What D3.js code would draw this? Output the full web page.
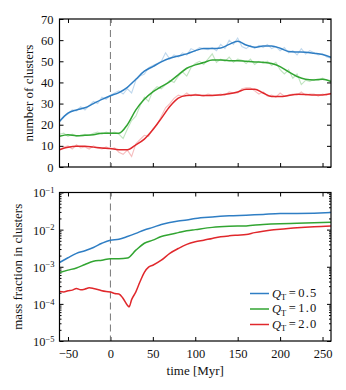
<!DOCTYPE html>
<html>
<head>
<meta charset="utf-8">
<script src="https://cdn.jsdelivr.net/npm/d3@7"></script>
<style>
  body { margin: 0; background: #fff; }
  svg text { font-family: "Liberation Serif", "DejaVu Serif", serif; fill: #111; }
</style>
</head>
<body>
<div id="chart"></div>
<script>
// smoothed curves, sampled every 10 Myr
const timeSmooth = [-60, -50, -40, -30, -20, -10, 0, 10, 20, 30, 40, 50, 60, 70, 80, 90, 100, 110, 120, 130, 140, 150, 160, 170, 180, 190, 200, 210, 220, 230, 240, 250, 260];
const nBlue = [21.5, 25.5, 27, 28, 30, 32, 33.7, 35.2, 37.7, 41.5, 45.3, 47.5, 49.7, 51.4, 52.5, 53.5, 55, 56, 56, 56.3, 58, 59.5, 57.7, 56.6, 57.2, 57.2, 56.2, 54.6, 54.4, 54.3, 53.8, 53.2, 51.9];
const nGreen = [14.5, 15.2, 14.8, 15, 15.3, 16, 16, 16, 20, 27, 32, 35.5, 38, 40.4, 43.6, 46.7, 48.3, 49.4, 50.6, 50.6, 50.3, 50.3, 50, 49.7, 49.5, 49, 47.5, 45, 42.8, 41.5, 41.2, 41.5, 40.4];
const nRed = [8.2, 9.3, 9.8, 9.8, 9.4, 9, 8.7, 8.2, 8.2, 10.5, 13.2, 17.6, 23, 28.6, 32.6, 33.8, 34, 33.8, 33.8, 34.1, 34.6, 35.5, 36.8, 36.8, 35, 33.3, 33.3, 33.8, 34.4, 34.3, 34.1, 34.1, 34.6];

// raw counts, sampled every 5 Myr
const timeRaw = [-60, -55, -50, -45, -40, -35, -30, -25, -20, -15, -10, -5, 0, 5, 10, 15, 20, 25, 30, 35, 40, 45, 50, 55, 60, 65, 70, 75, 80, 85, 90, 95, 100, 105, 110, 115, 120, 125, 130, 135, 140, 145, 150, 155, 160, 165, 170, 175, 180, 185, 190, 195, 200, 205, 210, 215, 220, 225, 230, 235, 240, 245, 250, 255, 260];
const rawBlue = [22, 24, 25, 27, 26.5, 28.5, 27, 29, 31, 30, 33, 32, 34, 35, 36, 34.5, 37, 35, 41, 43, 44, 47, 48, 49, 50, 54, 51, 53, 52, 54, 53, 56, 55, 56.5, 56, 55.5, 56.5, 55, 58, 56, 60, 58, 61, 57, 56, 57.5, 56, 57.5, 56.5, 58, 56, 57, 55, 56.5, 54, 55, 53, 56, 53.5, 55, 54, 53, 53.5, 52, 51.5];
const rawGreen = [15.5, 16, 14.5, 15.5, 14.5, 15, 15.5, 15, 16, 16.5, 15.5, 16.5, 16, 16.5, 15.5, 13.5, 18, 22, 24, 29, 33, 31, 36, 38, 37, 39, 41, 40, 43, 45, 43, 47, 49, 50, 48.5, 51, 53.5, 49.5, 51, 50, 52, 49.5, 51, 50.5, 49, 51, 48.5, 50, 49, 50, 48, 49.5, 46, 44, 46, 42, 44, 39, 41, 40.5, 41.5, 41, 42, 41, 41];
const rawRed = [8, 9.5, 10, 8.5, 10.5, 9, 9.5, 8.5, 10, 9, 8.5, 9.5, 8.5, 9, 7, 6, 8, 5, 11, 13, 15, 14.5, 18, 20, 24, 28, 30, 32.5, 34, 33.5, 35, 33.5, 34.5, 34, 33.5, 34.5, 34, 34, 34.5, 34, 35.5, 35, 35, 37, 37.5, 37.5, 36, 34.5, 35.5, 33.5, 34, 33, 35, 33.5, 34, 34.5, 34, 35.5, 34, 34.5, 34.5, 33.5, 34.5, 34, 35];

// mass fraction in clusters
const timeMass = [-60, -50, -40, -30, -20, -10, 0, 10, 20, 30, 40, 50, 60, 70, 80, 90, 100, 120, 140, 160, 180, 200, 220, 240, 260];
const fBlue = [1.3e-3, 1.75e-3, 2.3e-3, 2.7e-3, 3.3e-3, 4.3e-3, 5.2e-3, 5.5e-3, 6.5e-3, 7.9e-3, 9.8e-3, 1.15e-2, 1.38e-2, 1.55e-2, 1.7e-2, 1.82e-2, 2.0e-2, 2.2e-2, 2.35e-2, 2.45e-2, 2.57e-2, 2.7e-2, 2.72e-2, 2.78e-2, 2.88e-2];
const fGreen = [7.0e-4, 8.1e-4, 9.3e-4, 1.15e-3, 1.4e-3, 1.5e-3, 1.65e-3, 1.65e-3, 1.72e-3, 2.8e-3, 4.3e-3, 5.2e-3, 6.5e-3, 7.4e-3, 8.3e-3, 9.3e-3, 1.0e-2, 1.15e-2, 1.23e-2, 1.26e-2, 1.38e-2, 1.45e-2, 1.48e-2, 1.52e-2, 1.58e-2];
const timeMassRed = [-60, -55, -50, -45, -40, -35, -30, -25, -20, -15, -10, -5, 0, 5, 10, 15, 20, 22, 25, 30, 35, 40, 45, 50, 60, 70, 80, 90, 100, 110, 120, 130, 140, 150, 160, 170, 180, 190, 200, 220, 240, 260];
const fRed = [2.15e-4, 2.1e-4, 2.25e-4, 2.35e-4, 2.6e-4, 2.4e-4, 2.5e-4, 2.7e-4, 2.6e-4, 2.45e-4, 2.25e-4, 2.15e-4, 2.1e-4, 1.9e-4, 1.85e-4, 1.4e-4, 9.2e-5, 8.3e-5, 1.3e-4, 2.1e-4, 4.0e-4, 7.1e-4, 9.8e-4, 1.1e-3, 1.5e-3, 2.3e-3, 3.1e-3, 4.0e-3, 4.7e-3, 5.2e-3, 5.8e-3, 6.4e-3, 6.8e-3, 7.1e-3, 7.4e-3, 8.3e-3, 9.1e-3, 9.8e-3, 1.02e-2, 1.12e-2, 1.2e-2, 1.26e-2];

const seriesNames = ["Q_T = 0.5", "Q_T = 1.0", "Q_T = 2.0"];
const qValues = ["0.5", "1.0", "2.0"];
const xTicks = [-50, 0, 50, 100, 150, 200, 250];
const countTicks = [0, 10, 20, 30, 40, 50, 60, 70];
const massTicks = [1e-5, 1e-4, 1e-3, 1e-2, 1e-1];

const COLORS = ["#2f7ec4", "#32a532", "#e0282c"];

const WIDTH = 346, HEIGHT = 390;
const LEFT = 59.5, RIGHT = 331;
const TOP1 = 19, BOT1 = 167;
const TOP2 = 192.5, BOT2 = 341;
const FS = 12.5;

const svg = d3.select("#chart").append("svg")
  .attr("width", WIDTH)
  .attr("height", HEIGHT);

const x = d3.scaleLinear().domain([-60, 260]).range([LEFT, RIGHT]);
const yN = d3.scaleLinear().domain([0, 70]).range([BOT1, TOP1]);
const yF = d3.scaleLog().domain([1e-5, 1e-1]).range([BOT2, TOP2]);

svg.append("defs").selectAll("clipPath")
  .data([[TOP1, BOT1], [TOP2, BOT2]])
  .enter().append("clipPath")
  .attr("id", (d, i) => "clip" + i)
  .append("rect")
  .attr("x", LEFT).attr("y", (d) => d[0])
  .attr("width", RIGHT - LEFT).attr("height", (d) => d[1] - d[0]);

/** Top panel */
const g1 = svg.append("g");

// x ticks, inward, top and bottom
g1.append("g").attr("transform", `translate(0, ${BOT1})`)
  .call(d3.axisBottom(x).tickValues(xTicks).tickSize(-4).tickFormat(""));
g1.append("g").attr("transform", `translate(0, ${TOP1})`)
  .call(d3.axisTop(x).tickValues(xTicks).tickSize(-4).tickFormat(""));
// y ticks
g1.append("g").attr("transform", `translate(${LEFT}, 0)`)
  .call(d3.axisLeft(yN).tickValues(countTicks).tickSize(-4).tickPadding(6).tickFormat(d3.format("d")));
g1.append("g").attr("transform", `translate(${RIGHT}, 0)`)
  .call(d3.axisRight(yN).tickValues(countTicks).tickSize(-4).tickFormat(""));

const plot1 = g1.append("g").attr("clip-path", "url(#clip0)");

plot1.append("line")
  .attr("x1", x(0)).attr("x2", x(0))
  .attr("y1", TOP1).attr("y2", BOT1)
  .attr("stroke", "#777").attr("stroke-width", 1)
  .attr("stroke-dasharray", "7,4");

const lineRaw = d3.line().x((d) => x(d[0])).y((d) => yN(d[1]));
const lineSmooth = d3.line().curve(d3.curveMonotoneX).x((d) => x(d[0])).y((d) => yN(d[1]));

[rawBlue, rawGreen, rawRed].forEach((vals, i) => {
  plot1.append("path")
    .datum(timeRaw.map((t, j) => [t, vals[j]]))
    .attr("d", lineRaw)
    .attr("fill", "none")
    .attr("stroke", COLORS[i])
    .attr("stroke-opacity", 0.3)
    .attr("stroke-width", 1.1);
});

[nBlue, nGreen, nRed].forEach((vals, i) => {
  plot1.append("path")
    .datum(timeSmooth.map((t, j) => [t, vals[j]]))
    .attr("d", lineSmooth)
    .attr("fill", "none")
    .attr("stroke", COLORS[i])
    .attr("stroke-width", 1.5);
});

g1.append("rect")
  .attr("x", LEFT).attr("y", TOP1)
  .attr("width", RIGHT - LEFT).attr("height", BOT1 - TOP1)
  .attr("fill", "none").attr("stroke", "#000").attr("stroke-width", 1.2);

g1.append("text")
  .attr("transform", `translate(30, ${(TOP1 + BOT1) / 2}) rotate(-90)`)
  .attr("text-anchor", "middle")
  .attr("dominant-baseline", "middle")
  .attr("font-size", 13)
  .text("number of clusters");

/** Bottom panel */
const g2 = svg.append("g");

g2.append("g").attr("transform", `translate(0, ${BOT2})`)
  .call(d3.axisBottom(x).tickValues(xTicks).tickSize(-4).tickPadding(8)
    .tickFormat((d) => (d < 0 ? "\u2212" + Math.abs(d) : d)));
g2.append("g").attr("transform", `translate(0, ${TOP2})`)
  .call(d3.axisTop(x).tickValues(xTicks).tickSize(-4).tickFormat(""));

// minor log ticks
const minor = [];
for (let e = -5; e < -1; e++) {
  for (let m = 2; m <= 9; m++) minor.push(m * Math.pow(10, e));
}
g2.append("g").attr("transform", `translate(${LEFT}, 0)`)
  .call(d3.axisLeft(yF).tickValues(minor).tickSize(-2).tickFormat(""));
g2.append("g").attr("transform", `translate(${RIGHT}, 0)`)
  .call(d3.axisRight(yF).tickValues(minor).tickSize(-2).tickFormat(""));
const yLeft2 = g2.append("g").attr("transform", `translate(${LEFT}, 0)`)
  .call(d3.axisLeft(yF).tickValues(massTicks).tickSize(-4).tickPadding(6).tickFormat(""));
g2.append("g").attr("transform", `translate(${RIGHT}, 0)`)
  .call(d3.axisRight(yF).tickValues(massTicks).tickSize(-4).tickFormat(""));

// labels 10^n
yLeft2.selectAll(".tick").append("text")
  .attr("x", -5).attr("dy", "0.35em")
  .attr("text-anchor", "end")
  .attr("font-size", FS)
  .each(function (d) {
    const t = d3.select(this);
    t.append("tspan").text("10");
    t.append("tspan").attr("dy", "-0.5em").attr("font-size", 8.5)
      .text("\u2212" + Math.abs(Math.round(Math.log10(d))));
  });

const plot2 = g2.append("g").attr("clip-path", "url(#clip1)");

plot2.append("line")
  .attr("x1", x(0)).attr("x2", x(0))
  .attr("y1", TOP2).attr("y2", BOT2)
  .attr("stroke", "#777").attr("stroke-width", 1)
  .attr("stroke-dasharray", "7,4");

const lineMass = d3.line().curve(d3.curveMonotoneX).x((d) => x(d[0])).y((d) => yF(d[1]));

[[timeMass, fBlue], [timeMass, fGreen], [timeMassRed, fRed]].forEach(([ts, vals], i) => {
  plot2.append("path")
    .datum(ts.map((t, j) => [t, vals[j]]))
    .attr("d", lineMass)
    .attr("fill", "none")
    .attr("stroke", COLORS[i])
    .attr("stroke-width", 1.5);
});

g2.append("rect")
  .attr("x", LEFT).attr("y", TOP2)
  .attr("width", RIGHT - LEFT).attr("height", BOT2 - TOP2)
  .attr("fill", "none").attr("stroke", "#000").attr("stroke-width", 1.2);

g2.append("text")
  .attr("transform", `translate(19, ${(TOP2 + BOT2) / 2}) rotate(-90)`)
  .attr("text-anchor", "middle")
  .attr("dominant-baseline", "middle")
  .attr("font-size", 13)
  .text("mass fraction in clusters");

svg.append("text")
  .attr("x", (LEFT + RIGHT) / 2).attr("y", 375)
  .attr("text-anchor", "middle")
  .attr("font-size", 13)
  .text("time [Myr]");

// legend
const legend = g2.append("g").selectAll("g")
  .data(seriesNames)
  .enter().append("g")
  .attr("transform", (d, i) => `translate(250, ${293.5 + i * 15.5})`);
legend.append("line")
  .attr("x1", 0).attr("x2", 19)
  .attr("stroke", (d, i) => COLORS[i])
  .attr("stroke-width", 1.5);
const lt = legend.append("text")
  .attr("x", 22).attr("dy", "0.35em")
  .attr("font-size", 12.5);
lt.append("tspan").attr("font-style", "italic").text("Q");
lt.append("tspan").attr("font-size", 8.5).attr("dy", "0.3em").text("T");
lt.append("tspan").attr("dy", "-0.3em").text("\u2009=\u2009");
lt.append("tspan").attr("letter-spacing", 1.2).text((d, i) => qValues[i]);

svg.selectAll(".domain").remove();
svg.selectAll(".tick line").attr("stroke", "#000");
svg.selectAll(".tick text").attr("font-size", FS).attr("fill", "#111");
</script>
</body>
</html>
